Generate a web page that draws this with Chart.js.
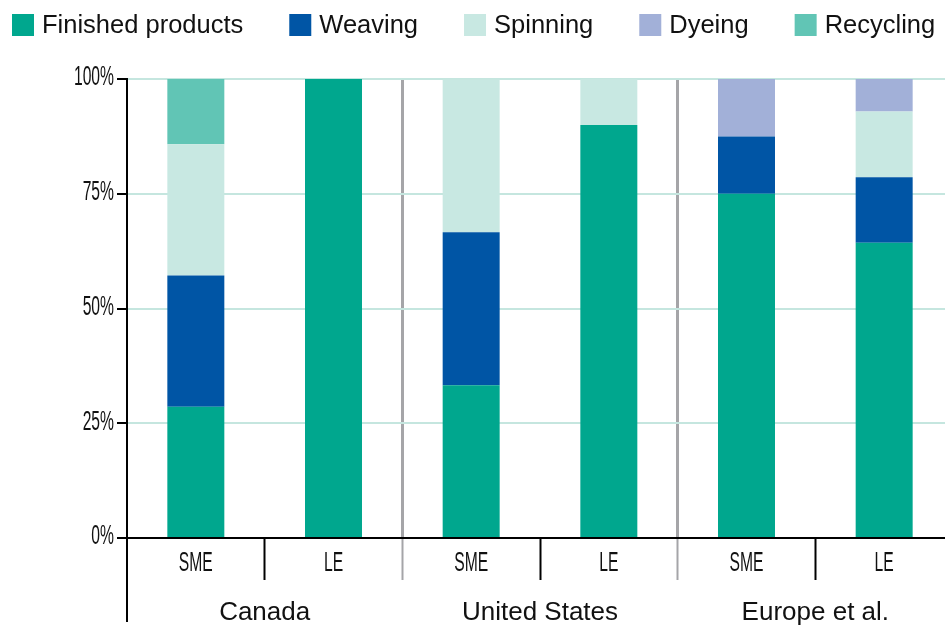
<!DOCTYPE html>
<html>
<head>
<meta charset="utf-8">
<script src="https://cdn.jsdelivr.net/npm/chart.js@4.4.1/dist/chart.umd.min.js"></script>
<style>
  html, body { margin: 0; padding: 0; background: #fff; }
  #wrap { width: 945px; height: 626px; position: relative; overflow: hidden; }
  #inner { width: 953px; height: 626px; position: absolute; left: 0; top: 0; }
</style>
</head>
<body>
<div id="wrap"><div id="inner"><canvas id="chart"></canvas></div></div>
<script>
// categories: size class within each region
const sizeLabels = ['SME', 'LE', 'SME', 'LE', 'SME', 'LE'];
const regions = ['Canada', 'United States', 'Europe et al.'];
const yTicks = [0, 25, 50, 75, 100];

// share of firms by activity (%), bottom to top
const finished = [28.6, 100, 33.3, 90, 75, 64.3];
const weaving = [28.6, 0, 33.3, 0, 12.5, 14.3];
const spinning = [28.6, 0, 33.3, 10, 0, 14.3];
const dyeing = [0, 0, 0, 0, 12.5, 7.1];
const recycling = [14.2, 0, 0, 0, 0, 0];

const seriesNames = ['Finished products', 'Weaving', 'Spinning', 'Dyeing', 'Recycling'];
const seriesColors = ['#00a78e', '#0055a5', '#c8e8e2', '#a2b0d8', '#61c5b5'];
const seriesValues = [finished, weaving, spinning, dyeing, recycling];

const mainFont = '"Liberation Sans", Arial, sans-serif';

// condensed text: squeeze horizontally around the anchor point
function narrowText(ctx, text, x, y, align) {
  ctx.save();
  ctx.translate(x, y);
  ctx.scale(0.58, 1);
  ctx.textAlign = align;
  ctx.fillText(text, 0, 0);
  ctx.restore();
}

// legend along the top, drawn from the datasets
const topLegend = {
  id: 'topLegend',
  afterDraw(chart) {
    const ctx = chart.ctx;
    ctx.save();
    ctx.font = '25.5px ' + mainFont;
    ctx.textBaseline = 'middle';
    ctx.textAlign = 'left';
    let x = 12;
    chart.data.datasets.forEach(ds => {
      ctx.fillStyle = ds.backgroundColor;
      ctx.fillRect(x, 14, 22, 22);
      ctx.fillStyle = '#111';
      ctx.fillText(ds.label, x + 30, 26);
      x += 30 + ctx.measureText(ds.label).width + 46;
    });
    ctx.restore();
  }
};

// tick labels, region labels and the long y axis line
const axisText = {
  id: 'axisText',
  afterDraw(chart) {
    const ctx = chart.ctx;
    const xs = chart.scales.x;
    const ys = chart.scales.y;
    const area = chart.chartArea;
    ctx.save();
    ctx.strokeStyle = '#000';
    ctx.lineWidth = 2;
    ctx.beginPath();
    ctx.moveTo(area.left, area.bottom);
    ctx.lineTo(area.left, 622);
    ctx.stroke();

    ctx.fillStyle = '#111';
    ctx.textBaseline = 'middle';
    ctx.font = '27px ' + mainFont;
    ys.ticks.forEach(t => {
      narrowText(ctx, t.value + '%', area.left - 13, ys.getPixelForValue(t.value) - 1, 'right');
    });
    sizeLabels.forEach((s, i) => {
      narrowText(ctx, s, xs.getPixelForValue(i), 564, 'center');
    });

    ctx.font = '26px ' + mainFont;
    ctx.textAlign = 'center';
    regions.forEach((r, i) => {
      const cx = (xs.getPixelForValue(i * 2) + xs.getPixelForValue(i * 2 + 1)) / 2;
      ctx.fillText(r, cx, 613);
    });
    ctx.restore();
  }
};

new Chart(document.getElementById('chart'), {
  type: 'bar',
  data: {
    labels: sizeLabels,
    datasets: seriesNames.map((name, i) => ({
      label: name,
      data: seriesValues[i],
      backgroundColor: seriesColors[i],
      borderWidth: 0,
      barPercentage: 0.414,
      categoryPercentage: 1
    }))
  },
  options: {
    responsive: true,
    maintainAspectRatio: false,
    animation: false,
    devicePixelRatio: 1,
    layout: { padding: { top: 79, left: 0, right: 0, bottom: 0 } },
    plugins: {
      legend: { display: false },
      tooltip: { enabled: false }
    },
    scales: {
      x: {
        stacked: true,
        afterFit(scale) { scale.height = 88; },
        border: { color: '#000', width: 2 },
        grid: {
          offset: true,
          lineWidth: 3,
          tickLength: 42,
          tickWidth: 2,
          color: ctx => (ctx.index === 2 || ctx.index === 4) ? '#a5a5a8' : 'rgba(0,0,0,0)',
          tickColor: ctx => (ctx.index === 2 || ctx.index === 4) ? '#a5a5a8'
            : (ctx.index === 1 || ctx.index === 3 || ctx.index === 5) ? '#000' : 'rgba(0,0,0,0)'
        },
        ticks: { display: false }
      },
      y: {
        stacked: true,
        min: 0,
        max: 100,
        afterFit(scale) { scale.width = 127; },
        afterBuildTicks(scale) { scale.ticks = yTicks.map(v => ({ value: v })); },
        border: { color: '#000', width: 2 },
        grid: {
          color: '#c5e6df',
          lineWidth: 2,
          tickColor: '#000',
          tickLength: 10,
          tickWidth: 2
        },
        ticks: { display: false }
      }
    }
  },
  plugins: [topLegend, axisText]
});
</script>
</body>
</html>
